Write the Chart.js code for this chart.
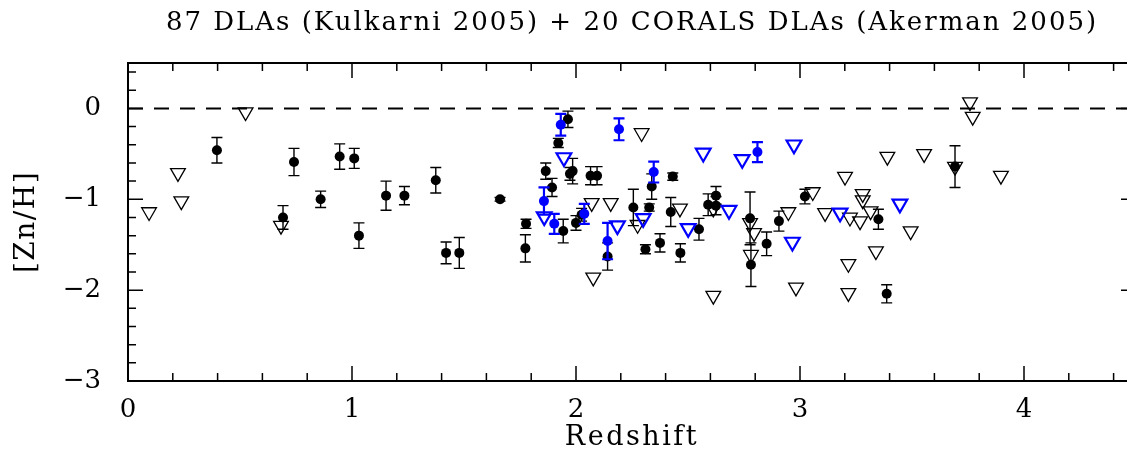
<!DOCTYPE html>
<html>
<head>
<meta charset="utf-8">
<script src="https://cdn.jsdelivr.net/npm/chart.js@4.4.0/dist/chart.umd.min.js"></script>
<style>
  html, body { margin: 0; padding: 0; background: #fff; overflow: hidden; }
</style>
</head>
<body>
<canvas id="grafico" width="1136" height="451"></canvas>
<script>
const titulo = '87 DLAs (Kulkarni 2005) + 20 CORALS DLAs (Akerman 2005)'
const tituloX = 'Redshift'
const tituloY = '[Zn/H]'
const fonte = '"DejaVu Serif", serif'

// Kulkarni 2005: detections (redshift, [Zn/H], 1 sigma)
const zKul = [0.397, 0.692, 0.741, 0.86, 0.945, 1.01, 1.031, 1.152, 1.234, 1.374,
    1.42, 1.479, 1.661, 1.777, 1.774, 1.865, 1.893, 1.964, 1.921, 1.985,
    1.973, 2.065, 2.094, 1.943, 2.0, 2.025, 2.141, 2.256, 2.327, 2.338,
    2.31, 2.375, 2.432, 2.423, 2.466, 2.549, 2.59, 2.625, 2.625, 2.777,
    2.781, 2.851, 2.906, 3.022, 3.35, 3.387, 3.692]
const znKul = [-0.46, -1.2, -0.59, -1.0, -0.53, -0.55, -1.4, -0.96, -0.96, -0.79,
    -1.59, -1.59, -1.0, -1.27, -1.54, -0.69, -0.87, -0.12, -0.38, -0.69,
    -0.72, -0.74, -0.74, -1.35, -1.26, -1.17, -1.63, -1.09, -1.09, -0.86,
    -1.55, -1.48, -0.75, -1.14, -1.59, -1.33, -1.06, -0.96, -1.07, -1.21,
    -1.72, -1.49, -1.24, -0.97, -1.22, -2.04, -0.64]
const errKul = [0.14, 0.13, 0.15, 0.09, 0.14, 0.11, 0.14, 0.16, 0.10, 0.14,
    0.12, 0.17, 0.02, 0.05, 0.15, 0.09, 0.10, 0.09, 0.05, 0.14,
    0.07, 0.10, 0.10, 0.13, 0.08, 0.07, 0.15, 0.20, 0.04, 0.14,
    0.05, 0.10, 0.04, 0.16, 0.10, 0.12, 0.12, 0.10, 0.10, 0.29,
    0.24, 0.13, 0.11, 0.08, 0.11, 0.10, 0.23]

// Kulkarni 2005: upper limits
const zKulLim = [0.094, 0.223, 0.238, 0.525, 0.683, 2.07, 2.155, 2.077, 2.293, 2.275,
    2.464, 2.613, 2.613, 2.777, 2.795, 2.781, 2.948, 2.982, 3.057, 3.112,
    3.201, 3.223, 3.268, 3.28, 3.28, 3.315, 3.216, 3.216, 3.339, 3.39,
    3.494, 3.554, 3.692, 3.759, 3.771, 3.897]
const znKulLim = [-1.14, -0.71, -1.02, -0.04, -1.29, -1.04, -1.04, -1.86, -0.27, -1.28,
    -1.10, -1.10, -2.06, -1.26, -1.37, -1.61, -1.14, -1.97, -0.92, -1.15,
    -0.75, -1.20, -1.24, -0.94, -1.01, -1.13, -1.71, -2.03, -1.57, -0.53,
    -1.35, -0.50, -0.64, 0.07, -0.09, -0.74]

// CORALS, Akerman 2005: detections
const zAke = [1.857, 1.903, 1.932, 2.037, 2.141, 2.192, 2.347, 2.81]
const znAke = [-1.02, -1.27, -0.18, -1.16, -1.46, -0.23, -0.70, -0.48]
const errAke = [0.15, 0.11, 0.12, 0.11, 0.20, 0.12, 0.115, 0.11]

// CORALS, Akerman 2005: upper limits
const zAkeLim = [1.946, 1.858, 2.185, 2.3, 2.501, 2.568, 2.683, 2.742, 2.973, 2.966, 3.179, 3.446]
const znAkeLim = [-0.54, -1.19, -1.29, -1.21, -1.32, -0.49, -1.12, -0.56, -0.40, -1.47, -1.15, -1.05]

const xTicks = [0, 1, 2, 3, 4]
const yTicks = [-3, -2, -1, 0]

function pontos(xs, ys, errs) {
    return xs.map((x, i) => ({ x: x, y: ys[i], err: errs ? errs[i] : 0 }))
}

function menos(v) {
    return v < 0 ? '\u2212' + Math.abs(v) : String(v)
}

// error bars go under the markers of their own dataset
const barrasErro = {
    id: 'barrasErro',
    beforeDatasetDraw(chart, args) {
        const ds = chart.data.datasets[args.index]
        if (!ds.comErro) return
        const ctx = chart.ctx
        const sx = chart.scales.x
        const sy = chart.scales.y
        ctx.save()
        ctx.strokeStyle = ds.backgroundColor
        ctx.lineWidth = ds.larguraErro
        ds.data.forEach(p => {
            const px = sx.getPixelForValue(p.x)
            const y1 = sy.getPixelForValue(p.y + p.err)
            const y2 = sy.getPixelForValue(p.y - p.err)
            ctx.beginPath()
            ctx.moveTo(px, y1); ctx.lineTo(px, y2)
            ctx.moveTo(px - 5.5, y1); ctx.lineTo(px + 5.5, y1)
            ctx.moveTo(px - 5.5, y2); ctx.lineTo(px + 5.5, y2)
            ctx.stroke()
        })
        ctx.restore()
    }
}

// box with inward ticks on all four sides, plus title and axis names
const moldura = {
    id: 'moldura',
    afterDraw(chart) {
        const ctx = chart.ctx
        const a = chart.chartArea
        const sx = chart.scales.x
        const sy = chart.scales.y
        ctx.save()
        ctx.strokeStyle = '#000'
        ctx.lineWidth = 2
        ctx.strokeRect(a.left, a.top, a.right - a.left, a.bottom - a.top)
        ctx.lineWidth = 1.5
        ctx.beginPath()
        for (let i = 0; i * 0.2 <= sx.max + 1e-6; i++) {
            const px = sx.getPixelForValue(i * 0.2)
            const len = (i % 5 === 0) ? 15 : 8
            ctx.moveTo(px, a.bottom); ctx.lineTo(px, a.bottom - len)
            ctx.moveTo(px, a.top); ctx.lineTo(px, a.top + len)
        }
        for (let i = 0; sy.min + i * 0.2 <= sy.max + 1e-6; i++) {
            const py = sy.getPixelForValue(sy.min + i * 0.2)
            const len = (i % 5 === 0) ? 15 : 8
            ctx.moveTo(a.left, py); ctx.lineTo(a.left + len, py)
            ctx.moveTo(a.right, py); ctx.lineTo(a.right - len, py)
        }
        ctx.stroke()

        const meio = (a.left + a.right) / 2
        ctx.fillStyle = '#000'
        ctx.textAlign = 'center'
        ctx.textBaseline = 'middle'

        ctx.font = '26px ' + fonte
        ctx.letterSpacing = '2px'
        ctx.fillText(titulo, meio, 23)

        ctx.font = '27px ' + fonte
        ctx.letterSpacing = '2.5px'
        ctx.fillText(tituloX, meio, 438)

        ctx.translate(27, (a.top + a.bottom) / 2)
        ctx.rotate(-Math.PI / 2)
        ctx.font = '28px ' + fonte
        ctx.letterSpacing = '1.5px'
        ctx.fillText(tituloY, 0, 0)
        ctx.restore()
    }
}

const ctx = document.getElementById('grafico').getContext('2d')

const grafico = new Chart(ctx, {
    type: 'scatter',
    data: {
        datasets: [
            {
                label: 'zero',
                type: 'line',
                data: [{ x: 0, y: 0 }, { x: 4.5, y: 0 }],
                borderColor: '#000',
                borderWidth: 2,
                borderDash: [15, 11],
                pointRadius: 0,
                order: 5
            },
            {
                label: 'Kulkarni limites',
                data: pontos(zKulLim, znKulLim),
                pointStyle: 'triangle',
                rotation: 180,
                pointRadius: 8.5,
                borderColor: '#000',
                borderWidth: 1.3,
                backgroundColor: 'rgba(0,0,0,0)',
                order: 4
            },
            {
                label: 'Kulkarni',
                data: pontos(zKul, znKul, errKul),
                comErro: true,
                larguraErro: 1.4,
                pointRadius: 5,
                borderWidth: 0,
                backgroundColor: '#000',
                order: 3
            },
            {
                label: 'CORALS limites',
                data: pontos(zAkeLim, znAkeLim),
                pointStyle: 'triangle',
                rotation: 180,
                pointRadius: 8.5,
                borderColor: '#0000ff',
                borderWidth: 2.2,
                backgroundColor: 'rgba(0,0,0,0)',
                order: 2
            },
            {
                label: 'CORALS',
                data: pontos(zAke, znAke, errAke),
                comErro: true,
                larguraErro: 2.2,
                pointRadius: 5,
                borderWidth: 0,
                backgroundColor: '#0000ff',
                order: 1
            }
        ]
    },
    options: {
        responsive: false,
        animation: false,
        devicePixelRatio: 1,
        layout: {
            autoPadding: false,
            padding: { top: 63, right: 0, left: 0, bottom: 0 }
        },
        plugins: {
            legend: { display: false },
            tooltip: { enabled: false }
        },
        scales: {
            x: {
                type: 'linear',
                min: 0,
                max: 4.5,
                grid: { display: false },
                border: { display: false },
                afterBuildTicks: s => { s.ticks = xTicks.map(v => ({ value: v })) },
                afterFit: s => {
                    s.height = 70
                    s.paddingLeft = 0
                    s.paddingRight = 0
                },
                ticks: {
                    color: '#000',
                    padding: 6,
                    maxRotation: 0,
                    font: { family: fonte, size: 26 },
                    callback: v => menos(v)
                }
            },
            y: {
                type: 'linear',
                min: -3,
                max: 0.5,
                grid: { display: false },
                border: { display: false },
                afterBuildTicks: s => { s.ticks = yTicks.map(v => ({ value: v })) },
                afterFit: s => {
                    s.width = 128
                    s.paddingTop = 0
                    s.paddingBottom = 0
                },
                ticks: {
                    color: '#000',
                    padding: 19,
                    font: { family: fonte, size: 26 },
                    callback: v => menos(v)
                }
            }
        }
    },
    plugins: [barrasErro, moldura]
})
</script>
</body>
</html>
